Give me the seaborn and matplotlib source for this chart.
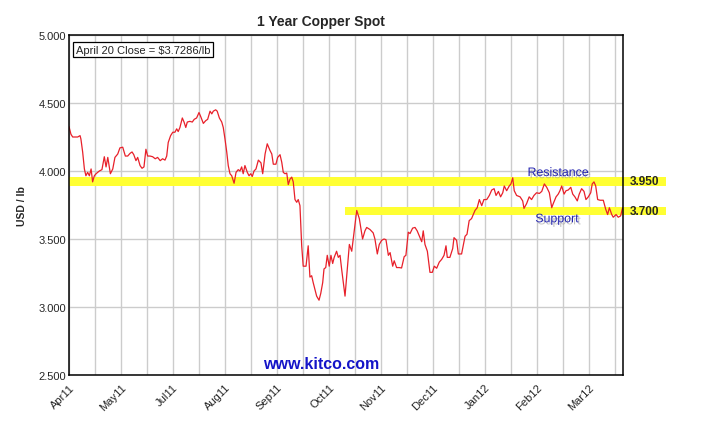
import matplotlib
matplotlib.use("Agg")
import matplotlib.pyplot as plt
import matplotlib.patheffects as pe
from matplotlib.patches import Rectangle
import seaborn as sns
import pandas as pd

# ---------------- data ----------------
day = [0, 0.9, 1.7, 2.9, 4.0, 5.1, 5.5, 6.3, 7.1, 7.8,
       8.6, 9.4, 10.2, 10.9, 11.7, 12.5, 14.0, 15.2, 16.3, 17.1,
       17.9, 19.1, 20.2, 21.2, 22.5, 23.5, 24.8, 26.0, 27.1, 28.2,
       29.1, 29.9, 30.9, 31.7, 32.8, 33.7, 34.6, 35.5, 36.3, 37.4,
       38.6, 39.8, 40.9, 42.1, 43.2, 44.3, 45.1, 45.8, 46.9, 47.9,
       48.9, 49.7, 50.4, 51.2, 52.3, 53.1, 53.9, 54.6, 55.8, 56.9,
       57.8, 58.9, 60.0, 60.8, 62.0, 63.1, 64.0, 65.1, 65.9, 66.6,
       67.7, 68.4, 69.4, 70.5, 71.2, 72.0, 72.8, 73.5, 74.3, 75.1,
       76.2, 77.1, 78.1, 78.9, 79.7, 80.4, 81.2, 82.3, 83.1, 83.9,
       84.6, 85.4, 86.3, 87.4, 88.6, 89.4, 90.5, 91.5, 92.8, 93.6,
       94.3, 95.5, 96.3, 97.4, 98.2, 98.9, 99.7, 100.5, 101.2, 102.0,
       102.8, 103.5, 104.3, 105.1, 105.8, 106.6, 107.4, 108.1, 109.4, 110.4,
       111.2, 112.0, 112.7, 113.5, 114.3, 115.4, 116.2, 117.1, 117.7, 118.5,
       119.2, 120.1, 120.9, 121.7, 122.4, 123.5, 124.3, 125.1, 125.9, 127.4,
       128.4, 129.4, 130.5, 132.8, 134.0, 135.5, 136.6, 137.4, 138.9, 140.4,
       141.2, 142.3, 143.2, 144.3, 145.4, 146.3, 147.4, 148.2, 149.4, 150.1,
       151.2, 152.4, 153.5, 154.7, 155.5, 156.6, 157.4, 158.6, 159.7, 160.7,
       162.0, 162.8, 163.5, 164.3, 165.4, 166.6, 167.7, 168.6, 169.7, 170.9,
       172.0, 173.1, 174.0, 174.6, 175.8, 177.1, 177.7, 178.9, 179.7, 181.2,
       182.8, 183.7, 184.7, 185.8, 187.4, 188.4, 189.4, 190.5, 191.5, 192.8,
       194.0, 195.1, 196.2, 197.1, 198.2, 199.2, 200.2, 200.9, 202.0, 203.2,
       204.0, 204.8, 205.5, 206.6, 208.2, 209.4, 210.0, 211.2, 212.4, 213.5,
       214.6, 215.8, 217.1, 218.2, 219.4, 220.5, 221.7, 222.8, 223.5, 224.8,
       225.8, 226.6, 227.4, 228.5, 229.4, 230.4, 231.6, 232.5, 233.5, 234.6,
       235.5, 236.6, 237.7, 238.6, 239.7, 240.8, 241.5, 242.3, 243.1, 244.0,
       245.1, 246.6, 247.7, 248.6, 249.4, 250.5, 251.2, 252.5, 253.5, 254.6,
       255.5]

price = [4.326, 4.27, 4.25, 4.25, 4.25, 4.26, 4.235, 4.14, 4.015, 3.965,
         3.99, 3.965, 4.015, 3.92, 3.965, 3.98, 4.0, 4.01, 4.105, 4.03,
         4.10, 3.98, 4.015, 4.10, 4.125, 4.17, 4.175, 4.11, 4.11, 4.13,
         4.14, 4.12, 4.076, 4.10, 4.04, 4.02, 4.03, 4.16, 4.11, 4.11,
         4.105, 4.09, 4.10, 4.076, 4.09, 4.08, 4.11, 4.21, 4.26, 4.285,
         4.285, 4.31, 4.29, 4.32, 4.39, 4.36, 4.32, 4.36, 4.365, 4.36,
         4.38, 4.39, 4.43, 4.40, 4.35, 4.37, 4.38, 4.44, 4.42, 4.44,
         4.45, 4.44, 4.39, 4.36, 4.32, 4.235, 4.14, 4.04, 3.98, 3.965,
         3.91, 3.99, 4.01, 4.0, 4.03, 3.98, 4.04, 3.99, 3.965, 3.98,
         3.96, 4.0, 4.015, 4.08, 4.06, 3.98, 4.125, 4.2, 4.15, 4.125,
         4.05, 4.05, 4.10, 4.12, 4.064, 3.99, 3.98, 3.985, 3.90, 3.94,
         3.955, 3.92, 3.79, 3.77, 3.79, 3.745, 3.45, 3.30, 3.30, 3.45,
         3.22, 3.23, 3.18, 3.13, 3.08, 3.05, 3.10, 3.18, 3.28, 3.29,
         3.38, 3.30, 3.38, 3.32, 3.365, 3.41, 3.365, 3.38, 3.27, 3.08,
         3.27, 3.46, 3.41, 3.71, 3.65, 3.50, 3.56, 3.585, 3.57, 3.545,
         3.50, 3.39, 3.46, 3.49, 3.50, 3.495, 3.38, 3.40, 3.30, 3.34,
         3.29, 3.29, 3.287, 3.37, 3.38, 3.55, 3.54, 3.58, 3.585, 3.56,
         3.51, 3.48, 3.56, 3.46, 3.41, 3.255, 3.255, 3.30, 3.285, 3.33,
         3.35, 3.38, 3.45, 3.365, 3.365, 3.43, 3.51, 3.49, 3.39, 3.39,
         3.52, 3.535, 3.635, 3.65, 3.71, 3.73, 3.79, 3.745, 3.79, 3.79,
         3.82, 3.86, 3.87, 3.82, 3.85, 3.81, 3.84, 3.89, 3.855, 3.89,
         3.905, 3.95, 3.855, 3.82, 3.81, 3.78, 3.725, 3.76, 3.81, 3.79,
         3.82, 3.84, 3.835, 3.85, 3.905, 3.88, 3.84, 3.73, 3.76, 3.81,
         3.83, 3.855, 3.89, 3.83, 3.855, 3.86, 3.88, 3.83, 3.81, 3.78,
         3.83, 3.87, 3.85, 3.79, 3.81, 3.84, 3.905, 3.92, 3.89, 3.79,
         3.785, 3.785, 3.72, 3.68, 3.73, 3.68, 3.66, 3.68, 3.66, 3.67,
         3.7286]

month_labels = ["Apr11", "May11", "Jul11", "Aug11", "Sep11", "Oct11",
                "Nov11", "Dec11", "Jan12", "Feb12", "Mar12"]
month_ticks = [0, 24, 48, 72, 96, 120, 144, 168, 192, 216, 240]
grid_days = list(range(0, 253, 12))
y_ticks = [2.5, 3.0, 3.5, 4.0, 4.5, 5.0]

band_names = ["Resistance", "Support"]
band_levels = ["3.950", "3.700"]
band_low = [3.892, 3.676]
band_high = [3.954, 3.733]
band_start = [0, 127.5]
band_end = 275.5

title = "1 Year Copper Spot"
close_note = "April 20 Close = $3.7286/lb"
site = "www.kitco.com"

df = pd.DataFrame({"day": day, "price": price})

# ---------------- style ----------------
sns.set_style("white")
plt.rcParams["font.family"] = ["Liberation Sans", "DejaVu Sans"]

fig = plt.figure(figsize=(7.09, 4.35), dpi=100)
ax = fig.add_axes([69 / 709, 1 - 376 / 435, (623 - 69) / 709, (376 - 36) / 435])

# grid
for g in grid_days:
    ax.axvline(g, color="#cccccc", lw=1.0, zorder=0)
for t in y_ticks:
    ax.axhline(t, color="#cccccc", lw=1.0, zorder=0)

# bands
for lo, hi, st, lab in zip(band_low, band_high, band_start, band_levels):
    ax.add_patch(Rectangle((st, lo), band_end - st, hi - lo, facecolor="#ffff33",
                           edgecolor="none", zorder=1, clip_on=False))
    ax.text(265.8, (lo + hi) / 2, lab, fontsize=8.5, fontweight="bold",
            ha="center", va="center", zorder=5, clip_on=False)

sns.lineplot(data=df, x="day", y="price", color="#e8202a", linewidth=0.9,
             estimator=None, sort=False, ax=ax, zorder=3)

shadow = [pe.SimplePatchShadow(offset=(1.5, -1.5), shadow_rgbFace="#999999", alpha=0.6),
          pe.Normal()]
ax.text(225.8, 3.985, band_names[0], fontsize=8.9, color="#2323b0", ha="center",
        va="center", zorder=5, path_effects=shadow)
ax.text(225.3, 3.645, band_names[1], fontsize=8.9, color="#2323b0", ha="center",
        va="center", zorder=5, path_effects=shadow)

ax.set_xlim(0, 255.7)
ax.set_ylim(2.5, 5.0)
ax.set_yticks(y_ticks)
ax.set_yticklabels([f"{v:.3f}" for v in y_ticks], fontsize=8)
ax.set_xticks(month_ticks)
ax.set_xticklabels(month_labels, fontsize=8, rotation=45, ha="right",
                   rotation_mode="anchor", color="#222222")
ax.tick_params(axis="y", direction="in", length=4.5, width=1, pad=2)
ax.tick_params(axis="x", length=0, pad=5)
ax.set_xlabel("")
ax.set_ylabel("USD / lb", fontsize=7.5, fontweight="bold", labelpad=8)
for s in ax.spines.values():
    s.set_color("black")
    s.set_linewidth(1.1)
    s.set_zorder(6)

ax.text(0.012, 0.972, close_note, transform=ax.transAxes, fontsize=8, ha="left",
        va="top", zorder=6,
        bbox=dict(boxstyle="square,pad=0.25", facecolor="white", edgecolor="black", lw=0.9))

fig.text(321 / 709, 1 - 22 / 435, title, fontsize=10, fontweight="bold",
         ha="center", va="center")
fig.text(321 / 709, 1 - 365 / 435, site, fontsize=11.5, fontweight="bold",
         color="#1414c8", ha="center", va="center", zorder=7)

fig.savefig("out.png", dpi=100)
